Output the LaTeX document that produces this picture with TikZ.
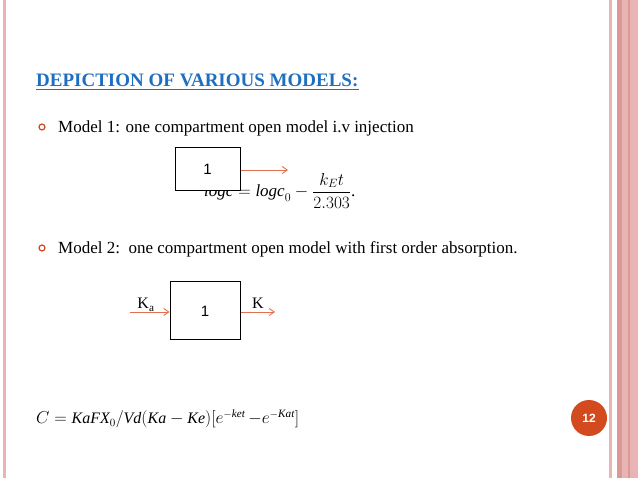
\documentclass[tikz,border=0pt]{standalone}
\usepackage{amsmath}
\usepackage{fontspec}
\setmainfont{Liberation Serif}
\setsansfont{Liberation Sans}
\usetikzlibrary{arrows.meta,calc}
\definecolor{pinkl}{HTML}{E8B4B4}
\definecolor{pinkd}{HTML}{D99A96}
\definecolor{titleblue}{HTML}{1F6FC0}
\definecolor{arr}{HTML}{E07050}
\definecolor{badge}{HTML}{D24A1E}
\begin{document}
\begin{tikzpicture}[x=1pt,y=-1pt,
  cbox/.style={draw=black,line width=1pt,fill=white,font=\sffamily\fontsize{15}{15}\selectfont,inner sep=0pt},
  flow/.style={draw=arr,line width=0.9pt,-{Straight Barb[length=5pt,width=7pt]}},
  body/.style={font=\fontsize{17}{20}\selectfont,anchor=base west,inner sep=0pt},
  bul/.style={draw=badge,line width=1.2pt,circle,minimum size=6pt,inner sep=0pt}]
\useasboundingbox (0,0) rectangle (638,478);
% borders
\fill[pinkl] (3,0) rectangle (6,478);
\fill[pinkl] (609,0) rectangle (612,478);
\fill[pinkd] (617,0) rectangle (622,478);
\fill[pinkl] (622,0) rectangle (638,478);
\fill[pinkd] (628,0) rectangle (630,478);
% title
\node[anchor=base west,inner sep=0pt,text=titleblue,font=\bfseries\fontsize{19}{22}\selectfont] (title) at (36,87) {DEPICTION OF VARIOUS MODELS:};
\draw[titleblue,line width=1pt] ($(title.base west)+(0,3)$) -- ($(title.base east)+(0,3)$);
% bullet 1
\node[bul] (b1) at (42,127) {};
\node[body] (t1) at (58,133) {Model 1: one compartment open model i.v injection};
% equation 1
\node[anchor=base west,inner sep=0pt,font=\fontsize{17}{20}\selectfont] (eq1) at (204,197) {$\mathit{logc} = \mathit{logc}_0 - \dfrac{k_E t}{2.303}$.};
\node[cbox,minimum width=65pt,minimum height=43pt] (box1) at (207.5,169.5) {1};
\coordinate (o1) at (288,170);
\draw[flow] (box1.east |- o1) -- (o1);
% bullet 2
\node[bul] (b2) at (42,248) {};
\node[body] (t2) at (58,254) {Model 2:\ \ one compartment open model with first order absorption.};
% box 2
\node[cbox,minimum width=70pt,minimum height=58pt] (box2) at (205,311) {1};
\coordinate (i2) at (130,312);
\coordinate (o2) at (275,312);
\draw[flow] (i2) -- (box2.west |- i2);
\draw[flow] (box2.east |- o2) -- (o2);
\node[anchor=base,inner sep=0pt,font=\fontsize{16}{18}\selectfont] (ka) at (146,309) {K\textsubscript{a}};
\node[anchor=base,inner sep=0pt,font=\fontsize{16}{18}\selectfont] (k) at (258,309) {K};
% equation 2
\node[anchor=base west,inner sep=0pt,font=\fontsize{16}{19}\selectfont] (eq2) at (36,424) {$C = \mathit{KaFX}_0/\mathit{Vd}(\mathit{Ka}-\mathit{Ke})[e^{-\mathit{ket}}\,{-e}^{-\mathit{Kat}}]$};
% page badge
\node[circle,fill=badge,minimum size=36pt,inner sep=0pt,text=white,font=\sffamily\bfseries\fontsize{12}{12}\selectfont] (pg) at (589,418) {12};
\end{tikzpicture}
\end{document}
